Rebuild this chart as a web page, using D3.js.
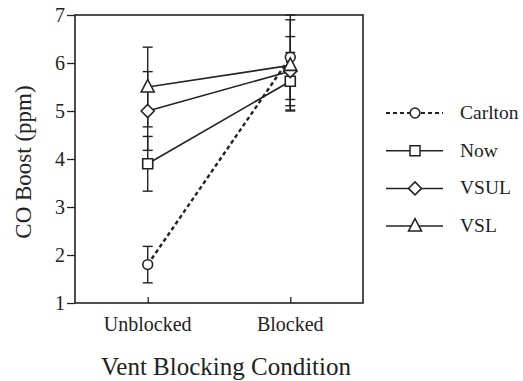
<!DOCTYPE html>
<html>
<head>
<meta charset="utf-8">
<script src="https://cdn.jsdelivr.net/npm/d3@7"></script>
<style>
  body { margin: 0; background: #fff; }
  svg text { font-family: "Liberation Serif", "Times New Roman", serif; }
</style>
</head>
<body>
<div id="chart"></div>
<script>
// data
const conditions = ['Unblocked', 'Blocked']
const seriesNames = ['Carlton', 'Now', 'VSUL', 'VSL']
const carlton = [1.8, 6.12]
const now = [3.9, 5.62]
const vsul = [5.0, 5.83]
const vsl = [5.5, 5.95]
const carltonErr = [0.38, 0.88]
const nowErr = [0.57, 0.6]
const vsulErr = [0.82, 0.72]
const vslErr = [0.83, 0.95]
const yTicks = [1, 2, 3, 4, 5, 6, 7]

const width = 523
const height = 381
const plot = { left: 75, right: 363, top: 15, bottom: 303 }

const svg = d3.select('#chart')
  .append('svg')
  .attr('width', width)
  .attr('height', height)

const x = d3.scalePoint()
  .domain(conditions)
  .range([plot.left, plot.right])
  .padding(0.51)

const y = d3.scaleLinear()
  .domain([1, 7])
  .range([plot.bottom, plot.top])

// frame
svg.append('rect')
  .attr('x', plot.left)
  .attr('y', plot.top)
  .attr('width', plot.right - plot.left)
  .attr('height', plot.bottom - plot.top)
  .attr('fill', 'none')
  .attr('stroke', '#222')
  .attr('stroke-width', 1.6)

// y axis
const yAxis = svg.append('g')
  .attr('transform', `translate(${plot.left},0)`)
  .call(d3.axisLeft(y).tickValues(yTicks).tickSize(8).tickPadding(2).tickFormat(d3.format('d')))
yAxis.attr('font-family', null)
yAxis.select('.domain').remove()
yAxis.selectAll('line').attr('stroke', '#222').attr('stroke-width', 1.3)
yAxis.selectAll('text')
  .attr('font-size', 20)
  .attr('fill', '#222')

// x axis (ticks point into the plot from the bottom)
const xAxis = svg.append('g')
  .attr('transform', `translate(0,${plot.bottom})`)
  .call(d3.axisTop(x).tickSize(6).tickFormat(''))
xAxis.select('.domain').remove()
xAxis.selectAll('line').attr('stroke', '#222').attr('stroke-width', 1.3)

svg.append('g')
  .selectAll('text')
  .data(conditions)
  .join('text')
  .attr('x', d => x(d))
  .attr('y', 331)
  .attr('text-anchor', 'middle')
  .attr('font-size', 20)
  .attr('fill', '#222')
  .text(d => d)

// axis titles
svg.append('text')
  .attr('transform', `translate(31,${(plot.top + plot.bottom) / 2 + 3}) rotate(-90)`)
  .attr('text-anchor', 'middle')
  .attr('font-size', 23)
  .attr('fill', '#222')
  .text('CO Boost (ppm)')

svg.append('text')
  .attr('x', 226)
  .attr('y', 375)
  .attr('text-anchor', 'middle')
  .attr('font-size', 25)
  .attr('fill', '#222')
  .text('Vent Blocking Condition')

const series = [
  { name: 'Carlton', values: carlton, err: carltonErr, dash: '4,3', shape: 'circle' },
  { name: 'Now', values: now, err: nowErr, dash: null, shape: 'square' },
  { name: 'VSUL', values: vsul, err: vsulErr, dash: null, shape: 'diamond' },
  { name: 'VSL', values: vsl, err: vslErr, dash: null, shape: 'triangle' }
]

const markerPath = shape => {
  if (shape === 'circle') return d3.symbol(d3.symbolCircle, 75)()
  if (shape === 'square') return 'M-5,-5H5V5H-5Z'
  if (shape === 'diamond') return 'M0,-6.5L6.5,0L0,6.5L-6.5,0Z'
  return 'M0,-7.5L6.5,5H-6.5Z'
}

// error bars
const errG = svg.append('g')
series.forEach(s => {
  conditions.forEach((c, i) => {
    const cx = x(c)
    const hi = y(Math.min(7, s.values[i] + s.err[i]))
    const lo = y(s.values[i] - s.err[i])
    errG.append('line')
      .attr('x1', cx).attr('x2', cx)
      .attr('y1', hi).attr('y2', lo)
      .attr('stroke', '#222').attr('stroke-width', 1.4)
    ;[hi, lo].forEach(yy => {
      errG.append('line')
        .attr('x1', cx - 5).attr('x2', cx + 5)
        .attr('y1', yy).attr('y2', yy)
        .attr('stroke', '#222').attr('stroke-width', 1.4)
    })
  })
})

// lines
const line = d3.line()
  .x((d, i) => x(conditions[i]))
  .y(d => y(d))

svg.append('g')
  .selectAll('path')
  .data(series)
  .join('path')
  .attr('d', s => line(s.values))
  .attr('fill', 'none')
  .attr('stroke', '#222')
  .attr('stroke-width', s => s.dash ? 2.4 : 1.6)
  .attr('stroke-dasharray', s => s.dash)

// markers
series.forEach(s => {
  svg.append('g')
    .selectAll('path')
    .data(s.values)
    .join('path')
    .attr('transform', (d, i) => `translate(${x(conditions[i])},${y(d)})`)
    .attr('d', markerPath(s.shape))
    .attr('fill', '#fff')
    .attr('stroke', '#222')
    .attr('stroke-width', 1.6)
})

// legend
const legend = svg.append('g')
  .selectAll('g')
  .data(series)
  .join('g')
  .attr('transform', (d, i) => `translate(386,${113 + i * 37.7})`)

legend.append('line')
  .attr('x1', 0).attr('x2', 57)
  .attr('stroke', '#222')
  .attr('stroke-width', d => d.dash ? 2.2 : 1.5)
  .attr('stroke-dasharray', d => d.dash)

legend.append('path')
  .attr('transform', 'translate(29,0)')
  .attr('d', d => markerPath(d.shape))
  .attr('fill', '#fff')
  .attr('stroke', '#222')
  .attr('stroke-width', 1.5)

legend.append('text')
  .attr('x', 74)
  .attr('y', 6)
  .attr('font-size', 19.5)
  .attr('fill', '#222')
  .text(d => d.name)
</script>
</body>
</html>
